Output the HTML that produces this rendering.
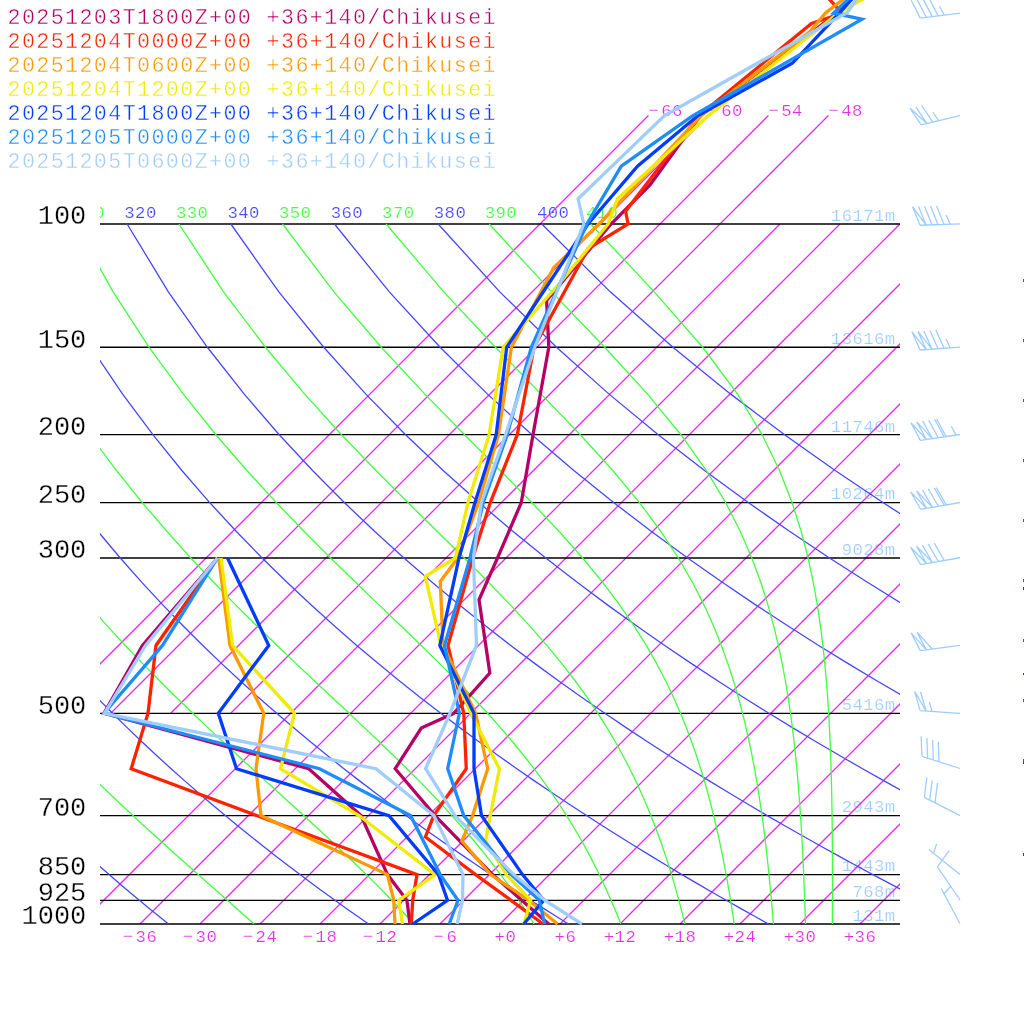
<!DOCTYPE html>
<html><head><meta charset="utf-8"><title>Emagram</title>
<style>
html,body{margin:0;padding:0;background:#fff;}
body{width:1024px;height:1024px;overflow:hidden;}
svg{display:block;font-family:"Liberation Mono",monospace;will-change:transform;-webkit-font-smoothing:antialiased;}
text{stroke:#fff;stroke-width:0.4px;paint-order:fill stroke;}
text.sm{stroke-width:0.2px;}
text.pl{stroke-width:0.3px;}
</style></head><body>
<svg width="1024" height="1024" viewBox="0 0 1024 1024">
<defs>
<clipPath id="plot"><rect x="100" y="0" width="800" height="924.5"/></clipPath>
<clipPath id="lblclip"><rect x="100" y="190" width="800" height="40"/></clipPath>
</defs>
<rect width="1024" height="1024" fill="#fff"/>
<text x="895.6" y="220.80" text-anchor="end" class="sm" font-size="17.3" letter-spacing="0.42" fill="#9fcdff">16171m</text>
<text x="895.6" y="344.06" text-anchor="end" class="sm" font-size="17.3" letter-spacing="0.42" fill="#9fcdff">13616m</text>
<text x="895.6" y="431.52" text-anchor="end" class="sm" font-size="17.3" letter-spacing="0.42" fill="#9fcdff">11746m</text>
<text x="895.6" y="499.36" text-anchor="end" class="sm" font-size="17.3" letter-spacing="0.42" fill="#9fcdff">10264m</text>
<text x="895.6" y="554.78" text-anchor="end" class="sm" font-size="17.3" letter-spacing="0.42" fill="#9fcdff">9028m</text>
<text x="895.6" y="710.08" text-anchor="end" class="sm" font-size="17.3" letter-spacing="0.42" fill="#9fcdff">5416m</text>
<text x="895.6" y="812.37" text-anchor="end" class="sm" font-size="17.3" letter-spacing="0.42" fill="#9fcdff">2943m</text>
<text x="895.6" y="871.39" text-anchor="end" class="sm" font-size="17.3" letter-spacing="0.42" fill="#9fcdff">1443m</text>
<text x="895.6" y="897.10" text-anchor="end" class="sm" font-size="17.3" letter-spacing="0.42" fill="#9fcdff">768m</text>
<text x="895.6" y="920.80" text-anchor="end" class="sm" font-size="17.3" letter-spacing="0.42" fill="#9fcdff">131m</text>
<g clip-path="url(#plot)">
<line x1="50.72" y1="713.28" x2="648.43" y2="115.57" stroke="#e030e0" stroke-width="1.3"/>
<line x1="110.72" y1="713.28" x2="708.43" y2="115.57" stroke="#e030e0" stroke-width="1.3"/>
<line x1="170.72" y1="713.28" x2="768.43" y2="115.57" stroke="#e030e0" stroke-width="1.3"/>
<line x1="230.72" y1="713.28" x2="828.43" y2="115.57" stroke="#e030e0" stroke-width="1.3"/>
<line x1="80.00" y1="924.00" x2="780.00" y2="224.00" stroke="#e030e0" stroke-width="1.3"/>
<line x1="140.00" y1="924.00" x2="840.00" y2="224.00" stroke="#e030e0" stroke-width="1.3"/>
<line x1="200.00" y1="924.00" x2="900.00" y2="224.00" stroke="#e030e0" stroke-width="1.3"/>
<line x1="260.00" y1="924.00" x2="960.00" y2="224.00" stroke="#e030e0" stroke-width="1.3"/>
<line x1="320.00" y1="924.00" x2="1020.00" y2="224.00" stroke="#e030e0" stroke-width="1.3"/>
<line x1="380.00" y1="924.00" x2="1080.00" y2="224.00" stroke="#e030e0" stroke-width="1.3"/>
<line x1="440.00" y1="924.00" x2="1140.00" y2="224.00" stroke="#e030e0" stroke-width="1.3"/>
<line x1="500.00" y1="924.00" x2="1200.00" y2="224.00" stroke="#e030e0" stroke-width="1.3"/>
<line x1="560.00" y1="924.00" x2="1260.00" y2="224.00" stroke="#e030e0" stroke-width="1.3"/>
<line x1="620.00" y1="924.00" x2="1320.00" y2="224.00" stroke="#e030e0" stroke-width="1.3"/>
<line x1="680.00" y1="924.00" x2="1380.00" y2="224.00" stroke="#e030e0" stroke-width="1.3"/>
<line x1="740.00" y1="924.00" x2="1440.00" y2="224.00" stroke="#e030e0" stroke-width="1.3"/>
<line x1="800.00" y1="924.00" x2="1500.00" y2="224.00" stroke="#e030e0" stroke-width="1.3"/>
<line x1="860.00" y1="924.00" x2="1560.00" y2="224.00" stroke="#e030e0" stroke-width="1.3"/>
</g>
<line x1="100" x2="900" y1="224.00" y2="224.00" stroke="#000000" stroke-width="1.3"/>
<line x1="100" x2="900" y1="347.26" y2="347.26" stroke="#000000" stroke-width="1.3"/>
<line x1="100" x2="900" y1="434.72" y2="434.72" stroke="#000000" stroke-width="1.3"/>
<line x1="100" x2="900" y1="502.56" y2="502.56" stroke="#000000" stroke-width="1.3"/>
<line x1="100" x2="900" y1="557.98" y2="557.98" stroke="#000000" stroke-width="1.3"/>
<line x1="100" x2="900" y1="713.28" y2="713.28" stroke="#000000" stroke-width="1.3"/>
<line x1="100" x2="900" y1="815.57" y2="815.57" stroke="#000000" stroke-width="1.3"/>
<line x1="100" x2="900" y1="874.59" y2="874.59" stroke="#000000" stroke-width="1.3"/>
<line x1="100" x2="900" y1="900.30" y2="900.30" stroke="#000000" stroke-width="1.3"/>
<line x1="100" x2="900" y1="924.00" y2="924.00" stroke="#000000" stroke-width="1.3"/>
<g clip-path="url(#plot)">
<polyline fill="none" stroke="#4646ff" stroke-width="1.3" points="168.50,924.00 158.92,916.30 149.22,908.41 139.39,900.30 129.44,891.97 119.35,883.41 109.13,874.59 98.77,865.52 88.26,856.16 77.60,846.51 66.78,836.54 55.80,826.24 44.65,815.57 33.32,804.51 21.81,793.04 10.11,781.12 -1.79,768.71 -13.90,755.77 -26.22,742.25 -38.76,728.11 -51.55,713.28 -64.57,697.69 -77.85,681.25 -91.39,663.87 -105.21,645.44 -119.31,625.82 -133.71,604.85 -148.40,582.32 -163.40,557.98 -178.69,531.53 -194.27,502.56 -210.11,470.53 -226.13,434.72 -242.23,394.13 -258.18,347.26 -273.56,291.84 -287.53,224.00"/>
<polyline fill="none" stroke="#4646ff" stroke-width="1.3" points="368.50,924.00 357.48,916.30 346.31,908.41 334.99,900.30 323.51,891.97 311.87,883.41 300.07,874.59 288.08,865.52 275.92,856.16 263.56,846.51 251.01,836.54 238.26,826.24 225.29,815.57 212.10,804.51 198.67,793.04 185.00,781.12 171.08,768.71 156.88,755.77 142.41,742.25 127.64,728.11 112.56,713.28 97.15,697.69 81.39,681.25 65.27,663.87 48.77,645.44 31.86,625.82 14.51,604.85 -3.28,582.32 -21.56,557.98 -40.33,531.53 -59.63,502.56 -79.45,470.53 -99.79,434.72 -120.61,394.13 -141.80,347.26 -163.08,291.84 -183.86,224.00"/>
<polyline fill="none" stroke="#4646ff" stroke-width="1.3" points="568.50,924.00 556.04,916.30 543.40,908.41 530.59,900.30 517.59,891.97 504.39,883.41 491.00,874.59 477.40,865.52 463.58,856.16 449.53,846.51 435.25,836.54 420.72,826.24 405.93,815.57 390.87,804.51 375.53,793.04 359.90,781.12 343.94,768.71 327.66,755.77 311.04,742.25 294.04,728.11 276.66,713.28 258.87,697.69 240.64,681.25 221.94,663.87 202.75,645.44 183.02,625.82 162.73,604.85 141.83,582.32 120.28,557.98 98.03,531.53 75.02,502.56 51.21,470.53 26.55,434.72 1.01,394.13 -25.41,347.26 -52.60,291.84 -80.20,224.00"/>
<polyline fill="none" stroke="#4646ff" stroke-width="1.3" points="768.50,924.00 754.60,916.30 740.50,908.41 726.19,900.30 711.66,891.97 696.92,883.41 681.94,874.59 666.71,865.52 651.24,856.16 635.50,846.51 619.48,836.54 603.18,826.24 586.58,815.57 569.65,804.51 552.40,793.04 534.79,781.12 516.81,768.71 498.45,755.77 479.67,742.25 460.45,728.11 440.76,713.28 420.58,697.69 399.88,681.25 378.60,663.87 356.72,645.44 334.19,625.82 310.95,604.85 286.95,582.32 262.12,557.98 236.39,531.53 209.67,502.56 181.87,470.53 152.89,434.72 122.62,394.13 90.97,347.26 57.88,291.84 23.47,224.00"/>
<polyline fill="none" stroke="#4646ff" stroke-width="1.3" points="968.50,924.00 953.16,916.30 937.59,908.41 921.79,900.30 905.74,891.97 889.44,883.41 872.87,874.59 856.03,865.52 838.90,856.16 821.47,846.51 803.72,836.54 785.64,826.24 767.22,815.57 748.43,804.51 729.26,793.04 709.68,781.12 689.68,768.71 669.23,755.77 648.29,742.25 626.85,728.11 604.87,713.28 582.30,697.69 559.12,681.25 535.27,663.87 510.70,645.44 485.36,625.82 459.17,604.85 432.07,582.32 403.96,557.98 374.75,531.53 344.32,502.56 312.53,470.53 279.23,434.72 244.24,394.13 207.35,347.26 168.36,291.84 127.13,224.00"/>
<polyline fill="none" stroke="#4646ff" stroke-width="1.3" points="1168.50,924.00 1151.72,916.30 1134.68,908.41 1117.39,900.30 1099.81,891.97 1081.96,883.41 1063.81,874.59 1045.34,865.52 1026.56,856.16 1007.43,846.51 987.95,836.54 968.10,826.24 947.86,815.57 927.21,804.51 906.12,793.04 884.58,781.12 862.55,768.71 840.01,755.77 816.92,742.25 793.25,728.11 768.97,713.28 744.02,697.69 718.36,681.25 691.93,663.87 664.68,645.44 636.53,625.82 607.39,604.85 577.19,582.32 545.80,557.98 513.11,531.53 478.97,502.56 443.19,470.53 405.57,434.72 365.86,394.13 323.73,347.26 278.84,291.84 230.80,224.00"/>
<polyline fill="none" stroke="#4646ff" stroke-width="1.3" points="1368.50,924.00 1350.28,916.30 1331.78,908.41 1312.98,900.30 1293.89,891.97 1274.48,883.41 1254.74,874.59 1234.66,865.52 1214.22,856.16 1193.40,846.51 1172.19,836.54 1150.56,826.24 1128.50,815.57 1105.99,804.51 1082.98,793.04 1059.47,781.12 1035.42,768.71 1010.79,755.77 985.55,742.25 959.66,728.11 933.07,713.28 905.74,697.69 877.60,681.25 848.60,663.87 818.66,645.44 787.69,625.82 755.61,604.85 722.31,582.32 687.64,557.98 651.48,531.53 613.62,502.56 573.85,470.53 531.92,434.72 487.47,394.13 440.12,347.26 389.32,291.84 334.46,224.00"/>
<polyline fill="none" stroke="#4646ff" stroke-width="1.3" points="1568.50,924.00 1548.84,916.30 1528.87,908.41 1508.58,900.30 1487.97,891.97 1467.00,883.41 1445.68,874.59 1423.97,865.52 1401.88,856.16 1379.37,846.51 1356.42,836.54 1333.03,826.24 1309.15,815.57 1284.76,804.51 1259.85,793.04 1234.36,781.12 1208.28,768.71 1181.57,755.77 1154.18,742.25 1126.06,728.11 1097.17,713.28 1067.46,697.69 1036.84,681.25 1005.26,663.87 972.63,645.44 938.86,625.82 903.83,604.85 867.43,582.32 829.49,557.98 789.84,531.53 748.27,502.56 704.51,470.53 658.26,434.72 609.09,394.13 556.50,347.26 499.80,291.84 438.13,224.00"/>
<polyline fill="none" stroke="#4646ff" stroke-width="1.3" points="1768.50,924.00 1747.40,916.30 1725.96,908.41 1704.18,900.30 1682.04,891.97 1659.52,883.41 1636.61,874.59 1613.29,865.52 1589.54,856.16 1565.34,846.51 1540.66,836.54 1515.49,826.24 1489.79,815.57 1463.54,804.51 1436.71,793.04 1409.26,781.12 1381.15,768.71 1352.35,755.77 1322.80,742.25 1292.47,728.11 1261.28,713.28 1229.17,697.69 1196.09,681.25 1161.93,663.87 1126.61,645.44 1090.03,625.82 1052.05,604.85 1012.54,582.32 971.33,557.98 928.20,531.53 882.92,502.56 835.17,470.53 784.60,434.72 730.71,394.13 672.88,347.26 610.29,291.84 541.79,224.00"/>
<polyline fill="none" stroke="#40ff40" stroke-width="1.3" points="254.10,924.00 245.45,916.30 236.54,908.41 227.37,900.30 217.94,891.97 208.24,883.41 198.28,874.59 188.05,865.52 177.56,856.16 166.79,846.51 155.76,836.54 144.46,826.24 132.88,815.57 121.04,804.51 108.92,793.04 96.52,781.12 83.85,768.71 70.90,755.77 57.65,742.25 44.12,728.11 30.28,713.28 16.13,697.69 1.67,681.25 -13.13,663.87 -28.26,645.44 -43.75,625.82 -59.61,604.85 -75.85,582.32 -92.48,557.98 -109.51,531.53 -126.95,502.56 -144.78,470.53 -162.96,434.72 -181.42,394.13 -199.99,347.26 -218.32,291.84 -235.69,224.00"/>
<polyline fill="none" stroke="#40ff40" stroke-width="1.3" points="413.90,924.00 406.87,916.30 399.50,908.41 391.78,900.30 383.69,891.97 375.20,883.41 366.32,874.59 357.00,865.52 347.26,856.16 337.06,846.51 326.39,836.54 315.26,826.24 303.64,815.57 291.53,804.51 278.93,793.04 265.82,781.12 252.22,768.71 238.12,755.77 223.51,742.25 208.41,728.11 192.81,713.28 176.70,697.69 160.10,681.25 142.98,663.87 125.34,645.44 107.18,625.82 88.46,604.85 69.18,582.32 49.31,557.98 28.82,531.53 7.69,502.56 -14.12,470.53 -36.62,434.72 -59.80,394.13 -83.60,347.26 -107.84,291.84 -132.03,224.00"/>
<polyline fill="none" stroke="#40ff40" stroke-width="1.3" points="534.08,924.00 529.29,916.30 524.21,908.41 518.83,900.30 513.13,891.97 507.07,883.41 500.62,874.59 493.76,865.52 486.44,856.16 478.64,846.51 470.31,836.54 461.42,826.24 451.91,815.57 441.75,804.51 430.89,793.04 419.30,781.12 406.93,768.71 393.75,755.77 379.72,742.25 364.83,728.11 349.06,713.28 332.39,697.69 314.83,681.25 296.37,663.87 277.02,645.44 256.79,625.82 235.68,604.85 213.68,582.32 190.79,557.98 166.99,531.53 142.24,502.56 116.50,470.53 89.70,434.72 61.81,394.13 32.78,347.26 2.64,291.84 -28.36,224.00"/>
<polyline fill="none" stroke="#40ff40" stroke-width="1.3" points="620.86,924.00 617.79,916.30 614.54,908.41 611.08,900.30 607.40,891.97 603.48,883.41 599.28,874.59 594.79,865.52 589.97,856.16 584.78,846.51 579.18,836.54 573.14,826.24 566.58,815.57 559.47,804.51 551.73,793.04 543.30,781.12 534.08,768.71 524.00,755.77 512.96,742.25 500.86,728.11 487.61,713.28 473.09,697.69 457.22,681.25 439.93,663.87 421.14,645.44 400.82,625.82 378.95,604.85 355.54,582.32 330.61,557.98 304.18,531.53 276.26,502.56 246.85,470.53 215.92,434.72 183.38,394.13 149.15,347.26 113.12,291.84 75.30,224.00"/>
<polyline fill="none" stroke="#40ff40" stroke-width="1.3" points="684.98,924.00 683.07,916.30 681.04,908.41 678.88,900.30 676.58,891.97 674.13,883.41 671.51,874.59 668.69,865.52 665.67,856.16 662.40,846.51 658.87,836.54 655.04,826.24 650.87,815.57 646.32,804.51 641.33,793.04 635.84,781.12 629.78,768.71 623.06,755.77 615.59,742.25 607.24,728.11 597.88,713.28 587.35,697.69 575.48,681.25 562.05,663.87 546.86,645.44 529.67,625.82 510.28,604.85 488.50,582.32 464.20,557.98 437.32,531.53 407.87,502.56 375.92,470.53 341.52,434.72 304.71,394.13 265.44,347.26 223.58,291.84 178.96,224.00"/>
<polyline fill="none" stroke="#40ff40" stroke-width="1.3" points="734.24,924.00 733.09,916.30 731.87,908.41 730.57,900.30 729.19,891.97 727.72,883.41 726.14,874.59 724.44,865.52 722.62,856.16 720.64,846.51 718.51,836.54 716.18,826.24 713.64,815.57 710.86,804.51 707.80,793.04 704.42,781.12 700.67,768.71 696.49,755.77 691.80,742.25 686.51,728.11 680.52,713.28 673.69,697.69 665.85,681.25 656.80,663.87 646.29,645.44 634.01,625.82 619.60,604.85 602.63,582.32 582.63,557.98 559.14,531.53 531.77,502.56 500.27,470.53 464.60,434.72 424.89,394.13 381.31,347.26 333.93,291.84 282.60,224.00"/>
<polyline fill="none" stroke="#40ff40" stroke-width="1.3" points="773.42,924.00 772.80,916.30 772.13,908.41 771.43,900.30 770.67,891.97 769.86,883.41 768.99,874.59 768.06,865.52 767.04,856.16 765.94,846.51 764.75,836.54 763.44,826.24 762.00,815.57 760.42,804.51 758.66,793.04 756.71,781.12 754.53,768.71 752.08,755.77 749.31,742.25 746.16,728.11 742.56,713.28 738.41,697.69 733.60,681.25 727.98,663.87 721.35,645.44 713.45,625.82 703.96,604.85 692.46,582.32 678.37,557.98 660.99,531.53 639.46,502.56 612.83,470.53 580.23,434.72 541.13,394.13 495.52,347.26 443.75,291.84 386.14,224.00"/>
<polyline fill="none" stroke="#40ff40" stroke-width="1.3" points="805.51,924.00 805.25,916.30 804.98,908.41 804.69,900.30 804.38,891.97 804.04,883.41 803.67,874.59 803.27,865.52 802.83,856.16 802.34,846.51 801.79,836.54 801.19,826.24 800.52,815.57 799.76,804.51 798.91,793.04 797.94,781.12 796.84,768.71 795.57,755.77 794.12,742.25 792.44,728.11 790.48,713.28 788.19,697.69 785.47,681.25 782.25,663.87 778.37,645.44 773.67,625.82 767.92,604.85 760.78,582.32 751.81,557.98 740.39,531.53 725.64,502.56 706.35,470.53 680.93,434.72 647.55,394.13 604.65,347.26 551.67,291.84 489.22,224.00"/>
<polyline fill="none" stroke="#40ff40" stroke-width="1.3" points="832.38,924.00 832.40,916.30 832.42,908.41 832.44,900.30 832.45,891.97 832.46,883.41 832.45,874.59 832.44,865.52 832.41,856.16 832.36,846.51 832.29,836.54 832.19,826.24 832.07,815.57 831.90,804.51 831.69,793.04 831.42,781.12 831.08,768.71 830.66,755.77 830.13,742.25 829.48,728.11 828.67,713.28 827.66,697.69 826.41,681.25 824.85,663.87 822.89,645.44 820.43,625.82 817.29,604.85 813.28,582.32 808.06,557.98 801.20,531.53 792.02,502.56 779.51,470.53 762.14,434.72 737.58,394.13 702.70,347.26 654.24,291.84 590.70,224.00"/>
</g>
<g clip-path="url(#lblclip)">
<text x="72.72" y="218.2" class="sm" font-size="17.3" letter-spacing="0.42" fill="#40ff40">310</text>
<text x="124.31" y="218.2" class="sm" font-size="17.3" letter-spacing="0.42" fill="#4646ff">320</text>
<text x="175.89" y="218.2" class="sm" font-size="17.3" letter-spacing="0.42" fill="#40ff40">330</text>
<text x="227.48" y="218.2" class="sm" font-size="17.3" letter-spacing="0.42" fill="#4646ff">340</text>
<text x="279.04" y="218.2" class="sm" font-size="17.3" letter-spacing="0.42" fill="#40ff40">350</text>
<text x="330.65" y="218.2" class="sm" font-size="17.3" letter-spacing="0.42" fill="#4646ff">360</text>
<text x="382.10" y="218.2" class="sm" font-size="17.3" letter-spacing="0.42" fill="#40ff40">370</text>
<text x="433.82" y="218.2" class="sm" font-size="17.3" letter-spacing="0.42" fill="#4646ff">380</text>
<text x="484.75" y="218.2" class="sm" font-size="17.3" letter-spacing="0.42" fill="#40ff40">390</text>
<text x="536.99" y="218.2" class="sm" font-size="17.3" letter-spacing="0.42" fill="#4646ff">400</text>
<text x="585.95" y="218.2" class="sm" font-size="17.3" letter-spacing="0.42" fill="#40ff40">410</text>
</g>
<text x="140.00" y="942.3" text-anchor="middle" class="sm" font-size="17.3" letter-spacing="0.42" fill="#e030e0" xml:space="preserve">−<tspan dx="2">36</tspan></text>
<text x="200.00" y="942.3" text-anchor="middle" class="sm" font-size="17.3" letter-spacing="0.42" fill="#e030e0" xml:space="preserve">−<tspan dx="2">30</tspan></text>
<text x="260.00" y="942.3" text-anchor="middle" class="sm" font-size="17.3" letter-spacing="0.42" fill="#e030e0" xml:space="preserve">−<tspan dx="2">24</tspan></text>
<text x="320.00" y="942.3" text-anchor="middle" class="sm" font-size="17.3" letter-spacing="0.42" fill="#e030e0" xml:space="preserve">−<tspan dx="2">18</tspan></text>
<text x="380.00" y="942.3" text-anchor="middle" class="sm" font-size="17.3" letter-spacing="0.42" fill="#e030e0" xml:space="preserve">−<tspan dx="2">12</tspan></text>
<text x="440.00" y="942.3" text-anchor="middle" class="sm" font-size="17.3" letter-spacing="0.42" fill="#e030e0" xml:space="preserve"> −<tspan dx="2">6</tspan></text>
<text x="500.00" y="942.3" text-anchor="middle" class="sm" font-size="17.3" letter-spacing="0.42" fill="#e030e0" xml:space="preserve"> +0</text>
<text x="560.00" y="942.3" text-anchor="middle" class="sm" font-size="17.3" letter-spacing="0.42" fill="#e030e0" xml:space="preserve"> +6</text>
<text x="620.00" y="942.3" text-anchor="middle" class="sm" font-size="17.3" letter-spacing="0.42" fill="#e030e0" xml:space="preserve">+12</text>
<text x="680.00" y="942.3" text-anchor="middle" class="sm" font-size="17.3" letter-spacing="0.42" fill="#e030e0" xml:space="preserve">+18</text>
<text x="740.00" y="942.3" text-anchor="middle" class="sm" font-size="17.3" letter-spacing="0.42" fill="#e030e0" xml:space="preserve">+24</text>
<text x="800.00" y="942.3" text-anchor="middle" class="sm" font-size="17.3" letter-spacing="0.42" fill="#e030e0" xml:space="preserve">+30</text>
<text x="860.00" y="942.3" text-anchor="middle" class="sm" font-size="17.3" letter-spacing="0.42" fill="#e030e0" xml:space="preserve">+36</text>
<text x="648.43" y="116.3" class="sm" font-size="17.3" letter-spacing="0.42" fill="#e030e0">−<tspan dx="2">66</tspan></text>
<text x="708.43" y="116.3" class="sm" font-size="17.3" letter-spacing="0.42" fill="#e030e0">−<tspan dx="2">60</tspan></text>
<text x="768.43" y="116.3" class="sm" font-size="17.3" letter-spacing="0.42" fill="#e030e0">−<tspan dx="2">54</tspan></text>
<text x="828.43" y="116.3" class="sm" font-size="17.3" letter-spacing="0.42" fill="#e030e0">−<tspan dx="2">48</tspan></text>
<text class="pl" x="86.3" y="224.40" text-anchor="end" font-size="27" fill="#000">100</text>
<text class="pl" x="86.3" y="347.66" text-anchor="end" font-size="27" fill="#000">150</text>
<text class="pl" x="86.3" y="435.12" text-anchor="end" font-size="27" fill="#000">200</text>
<text class="pl" x="86.3" y="502.96" text-anchor="end" font-size="27" fill="#000">250</text>
<text class="pl" x="86.3" y="558.38" text-anchor="end" font-size="27" fill="#000">300</text>
<text class="pl" x="86.3" y="713.68" text-anchor="end" font-size="27" fill="#000">500</text>
<text class="pl" x="86.3" y="815.97" text-anchor="end" font-size="27" fill="#000">700</text>
<text class="pl" x="86.3" y="874.99" text-anchor="end" font-size="27" fill="#000">850</text>
<text class="pl" x="86.3" y="900.70" text-anchor="end" font-size="27" fill="#000">925</text>
<text class="pl" x="86.3" y="924.40" text-anchor="end" font-size="27" fill="#000">1000</text>
<polyline fill="none" stroke="#b50066" stroke-width="3.3" stroke-linejoin="miter" stroke-miterlimit="10" points="410.00,924.00 406.90,900.30 387.50,874.59 361.00,815.57 308.75,768.71 104.00,713.28 142.50,645.44 217.50,557.98"/>
<polyline fill="none" stroke="#b50066" stroke-width="3.3" stroke-linejoin="miter" stroke-miterlimit="10" points="548.75,924.00 521.75,900.30 492.60,874.59 435.00,815.57 395.20,768.71 421.25,728.00 453.75,713.28 489.80,673.00 485.80,645.44 479.00,599.80 497.50,557.98 521.30,502.56 533.00,434.72 548.80,347.26 546.60,300.40 611.00,224.00 650.00,185.00 700.50,115.57 837.00,13.28 858.00,-9.00"/>
<polyline fill="none" stroke="#ff2200" stroke-width="3.3" stroke-linejoin="miter" stroke-miterlimit="10" points="411.25,924.00 412.75,900.30 417.00,874.59 256.50,815.57 131.20,768.71 148.00,713.28 156.00,645.44 217.50,557.98"/>
<polyline fill="none" stroke="#ff2200" stroke-width="3.3" stroke-linejoin="miter" stroke-miterlimit="10" points="543.00,924.00 511.00,900.30 475.60,874.59 425.40,837.00 433.75,815.57 466.25,768.71 463.75,713.28 448.00,645.44 472.70,557.98 490.30,502.56 517.30,434.72 534.00,347.26 588.20,248.50 628.10,224.00 625.60,211.25 699.00,115.57 811.50,23.40 842.00,13.28 822.00,-9.00"/>
<polyline fill="none" stroke="#ff9900" stroke-width="3.3" stroke-linejoin="miter" stroke-miterlimit="10" points="395.00,924.00 393.75,900.30 387.50,874.59 261.00,815.57 256.00,768.71 263.75,713.28 230.00,645.44 218.75,557.98"/>
<polyline fill="none" stroke="#ff9900" stroke-width="3.3" stroke-linejoin="miter" stroke-miterlimit="10" points="557.50,924.00 528.75,900.30 490.60,874.59 461.90,841.00 472.50,815.57 487.75,768.71 475.60,713.28 443.00,645.44 440.30,581.40 457.80,557.98 478.60,502.56 498.50,434.72 511.40,347.26 553.80,267.50 599.00,224.00 701.50,115.57 810.50,31.00 825.50,13.00 850.00,-6.00"/>
<polyline fill="none" stroke="#f0eb00" stroke-width="3.3" stroke-linejoin="miter" stroke-miterlimit="10" points="402.50,924.00 398.75,900.30 435.00,874.59 359.00,815.57 280.50,768.71 294.50,713.28 232.50,645.44 221.00,557.98"/>
<polyline fill="none" stroke="#f0eb00" stroke-width="3.3" stroke-linejoin="miter" stroke-miterlimit="10" points="524.00,924.00 530.60,900.30 506.25,874.59 485.60,841.00 490.30,815.57 499.40,768.71 471.90,715.50 441.00,645.44 425.30,576.25 455.40,557.98 468.00,502.56 489.10,434.72 503.20,347.26 558.40,284.80 608.10,224.00 617.50,198.75 708.50,115.57 838.00,13.28 879.00,-10.00"/>
<polyline fill="none" stroke="#003cff" stroke-width="3.3" stroke-linejoin="miter" stroke-miterlimit="10" points="412.75,924.00 447.50,900.30 438.50,874.59 389.00,815.57 236.50,768.71 218.30,713.28 268.75,645.44 227.50,557.98"/>
<polyline fill="none" stroke="#003cff" stroke-width="3.3" stroke-linejoin="miter" stroke-miterlimit="10" points="523.75,924.00 543.75,900.30 522.50,874.59 481.50,815.57 474.00,768.71 474.00,713.28 439.80,645.44 459.00,557.98 475.00,502.56 496.20,434.72 506.70,347.26 588.00,224.00 637.50,166.25 698.00,115.57 792.30,63.30 839.00,13.28 853.00,-2.00"/>
<polyline fill="none" stroke="#1e8cfa" stroke-width="3.3" stroke-linejoin="miter" stroke-miterlimit="10" points="449.20,924.00 458.00,900.30 440.25,874.59 410.50,815.57 319.50,768.71 104.00,713.28 162.50,645.44 217.50,557.98"/>
<polyline fill="none" stroke="#1e8cfa" stroke-width="3.3" stroke-linejoin="miter" stroke-miterlimit="10" points="544.60,924.00 539.40,900.30 511.25,874.59 463.75,815.57 447.70,768.71 459.40,713.28 444.50,645.44 470.00,557.98 483.30,502.56 507.20,434.72 531.30,347.26 586.90,224.00 621.25,166.25 692.50,116.00 862.00,19.20 833.40,13.20 858.00,-10.00"/>
<polyline fill="none" stroke="#9fcdff" stroke-width="3.3" stroke-linejoin="miter" stroke-miterlimit="10" points="457.20,924.00 462.50,900.30 463.00,874.59 433.75,815.57 376.00,768.71 104.50,713.28 145.50,645.44 217.50,557.98"/>
<polyline fill="none" stroke="#9fcdff" stroke-width="3.3" stroke-linejoin="miter" stroke-miterlimit="10" points="581.90,924.00 545.00,900.30 513.75,874.59 455.00,815.57 425.60,768.71 450.00,713.28 476.50,645.44 473.40,557.98 481.40,502.56 505.50,434.72 534.80,347.26 583.75,224.00 578.10,198.75 664.50,115.57 847.40,12.50 863.00,-10.00"/>
<path d="M960.00,13.10L920.32,18.11M920.32,18.11L911.17,0.32M926.27,17.36L917.13,-0.43M932.22,16.61L923.08,-1.18M938.17,15.86L929.03,-1.93M944.13,15.10L939.56,6.21" fill="none" stroke="#9fcdff" stroke-width="1.3"/>
<path d="M960.00,115.60L921.11,124.97M921.11,124.97L910.06,108.30L926.95,123.57M926.95,123.57L915.89,106.90M932.78,122.16L921.73,105.49M938.61,120.75L933.09,112.42" fill="none" stroke="#9fcdff" stroke-width="1.3"/>
<path d="M960.00,223.80L920.03,225.23M920.03,225.23L912.52,206.70L926.02,225.02M926.02,225.02L918.51,206.48M932.02,224.80L924.51,206.27M938.01,224.59L930.50,206.05M944.01,224.37L936.50,205.84M950.01,224.16L946.25,214.89" fill="none" stroke="#9fcdff" stroke-width="1.3"/>
<path d="M960.00,347.10L920.11,350.02M920.11,350.02L911.91,331.78L926.09,349.58M926.09,349.58L917.90,331.34L932.07,349.15M932.07,349.15L923.88,330.90M938.06,348.71L929.86,330.46M944.04,348.27L935.85,330.02M950.03,347.83L945.93,338.71" fill="none" stroke="#9fcdff" stroke-width="1.3"/>
<path d="M960.00,434.50L920.43,440.32M920.43,440.32L910.92,422.72L926.36,439.45M926.36,439.45L916.86,421.85L932.30,438.58M932.30,438.58L922.79,420.98M938.23,437.70L928.73,420.10M944.17,436.83L934.67,419.23M946.13,436.54L936.63,418.94M956.04,435.08L951.29,426.28" fill="none" stroke="#9fcdff" stroke-width="1.3"/>
<path d="M960.00,502.50L920.58,509.28M920.58,509.28L910.65,491.92L926.49,508.27M926.49,508.27L916.56,490.90L932.41,507.25M932.41,507.25L922.48,489.89M938.32,506.23L928.39,488.87M944.23,505.21L934.30,487.85M946.18,504.88L936.25,487.52" fill="none" stroke="#9fcdff" stroke-width="1.3"/>
<path d="M960.00,557.75L920.59,564.57M920.59,564.57L910.64,547.22L926.50,563.55M926.50,563.55L916.55,546.19L932.41,562.52M932.41,562.52L922.47,545.17M938.32,561.50L928.38,544.15M944.23,560.48L934.29,543.12" fill="none" stroke="#9fcdff" stroke-width="1.3"/>
<path d="M960.00,645.40L920.34,650.61M920.34,650.61L911.11,632.86L926.29,649.83M926.29,649.83L917.06,632.08L932.24,649.05" fill="none" stroke="#9fcdff" stroke-width="1.3"/>
<path d="M960.00,713.40L920.10,710.61M920.10,710.61L914.59,691.38L926.08,711.03M926.08,711.03L920.57,691.80M932.07,711.44L929.31,701.83" fill="none" stroke="#9fcdff" stroke-width="1.3"/>
<path d="M960.00,768.50L921.92,756.26M921.92,756.26L921.16,736.27M927.63,758.09L926.87,738.11M933.34,759.93L932.58,739.94M939.06,761.77L938.30,741.78" fill="none" stroke="#9fcdff" stroke-width="1.3"/>
<path d="M960.00,815.60L924.36,797.43M924.36,797.43L926.81,777.58M929.71,800.16L932.15,780.31M935.06,802.88L937.50,783.03" fill="none" stroke="#9fcdff" stroke-width="1.3"/>
<path d="M960.00,874.60L928.77,849.61M933.45,853.36L936.65,843.89" fill="none" stroke="#9fcdff" stroke-width="1.3"/>
<path d="M960.00,900.00L937.42,866.98M937.42,866.98L949.07,850.73" fill="none" stroke="#9fcdff" stroke-width="1.3"/>
<path d="M960.00,923.75L941.22,888.44M944.03,893.73L950.72,886.30" fill="none" stroke="#9fcdff" stroke-width="1.3"/>
<rect x="1023" y="279" width="1" height="3" fill="#c010d0"/>
<rect x="1023" y="339" width="1" height="3" fill="#c010d0"/>
<rect x="1023" y="399" width="1" height="3" fill="#c010d0"/>
<rect x="1023" y="459" width="1" height="3" fill="#c010d0"/>
<rect x="1023" y="519" width="1" height="3" fill="#c010d0"/>
<rect x="1023" y="579" width="1" height="3" fill="#c010d0"/>
<rect x="1023" y="587" width="1" height="3" fill="#3030ff"/>
<rect x="1023" y="639" width="1" height="3" fill="#c010d0"/>
<rect x="1023" y="673" width="1" height="2" fill="#3030ff"/>
<rect x="1023" y="699" width="1" height="3" fill="#c010d0"/>
<rect x="1023" y="759" width="1" height="2" fill="#c010d0"/>
<rect x="1023" y="761" width="1" height="3" fill="#3030ff"/>
<rect x="1023" y="853" width="1" height="3" fill="#3030ff"/>
<text x="7.5" y="24" font-size="21.7" letter-spacing="1.38" fill="#b50066" xml:space="preserve">20251203T1800Z+00 +36+140/Chikusei</text>
<text x="7.5" y="48" font-size="21.7" letter-spacing="1.38" fill="#ff2200" xml:space="preserve">20251204T0000Z+00 +36+140/Chikusei</text>
<text x="7.5" y="72" font-size="21.7" letter-spacing="1.38" fill="#ff9900" xml:space="preserve">20251204T0600Z+00 +36+140/Chikusei</text>
<text x="7.5" y="96" font-size="21.7" letter-spacing="1.38" fill="#f0eb00" xml:space="preserve">20251204T1200Z+00 +36+140/Chikusei</text>
<text x="7.5" y="120" font-size="21.7" letter-spacing="1.38" fill="#003cff" xml:space="preserve">20251204T1800Z+00 +36+140/Chikusei</text>
<text x="7.5" y="144" font-size="21.7" letter-spacing="1.38" fill="#1e8cfa" xml:space="preserve">20251205T0000Z+00 +36+140/Chikusei</text>
<text x="7.5" y="168" font-size="21.7" letter-spacing="1.38" fill="#9fcdff" xml:space="preserve">20251205T0600Z+00 +36+140/Chikusei</text>
</svg>
</body></html>
